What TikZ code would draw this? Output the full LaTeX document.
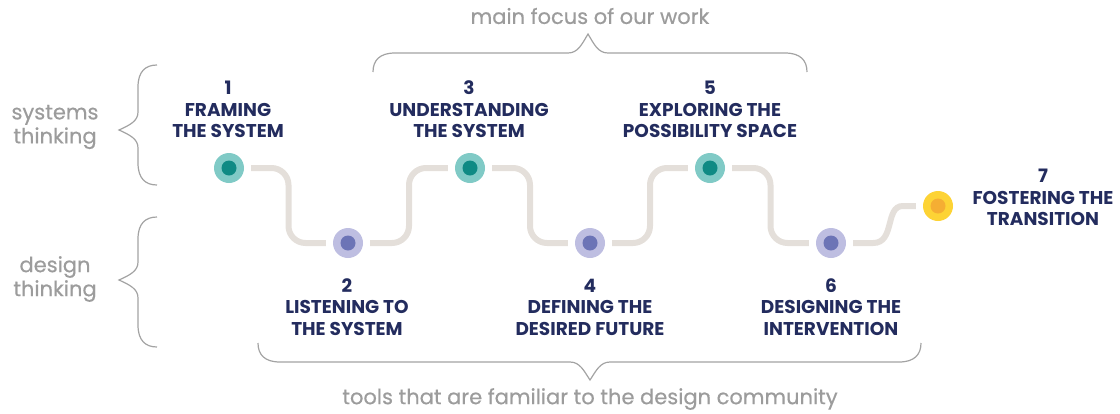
\documentclass[tikz,border=0pt]{standalone}
\usepackage{fontspec}
\setmainfont{Poppins}
\newfontfamily\grayfont[FakeBold=0.5]{Poppins}
\usetikzlibrary{calc}
\definecolor{navy}{HTML}{232C5E}
\definecolor{graytext}{HTML}{9C9C9C}
\definecolor{bracegray}{HTML}{A3A3A3}
\definecolor{track}{HTML}{E4DFDA}
\definecolor{tealL}{HTML}{80CAC6}
\definecolor{tealD}{HTML}{0F8A84}
\definecolor{lavL}{HTML}{BEBEE1}
\definecolor{lavD}{HTML}{6C74B6}
\definecolor{yelL}{HTML}{FDD335}
\definecolor{yelD}{HTML}{F5AE33}
\tikzset{
  stop/.style 2 args={circle, fill=#1, minimum size=30pt, inner sep=0pt,
    path picture={\fill[#2] (path picture bounding box.center) circle (7.5pt);}},
  trackline/.style={draw=track, line width=6pt, rounded corners=17pt},
  lab/.style={text=navy, font=\fontsize{18.5}{21.5}\selectfont\bfseries, align=center, inner sep=0pt},
  glab/.style={text=graytext, font=\grayfont\fontsize{21}{24}\selectfont, align=center, inner sep=0pt},
  bracel/.style={draw=bracegray, line width=1.2pt}
}
\begin{document}
\begin{tikzpicture}[x=1pt,y=-1pt]
\useasboundingbox (0,0) rectangle (1120,413);
% stops
\node[stop={tealL}{tealD}] (n1) at (229,168) {};
\node[stop={lavL}{lavD}] (n2) at (348,243) {};
\node[stop={tealL}{tealD}] (n3) at (470,168) {};
\node[stop={lavL}{lavD}] (n4) at (590,243) {};
\node[stop={tealL}{tealD}] (n5) at (710,168) {};
\node[stop={lavL}{lavD}] (n6) at (831,243) {};
\node[stop={yelL}{yelD}] (n7) at (938,206) {};
% track
\draw[trackline] ([xshift=7pt]n1.east) -| ($(n1)!0.5!(n2)$) |- ([xshift=-7pt]n2.west);
\draw[trackline] ([xshift=7pt]n2.east) -| ($(n2)!0.5!(n3)$) |- ([xshift=-7pt]n3.west);
\draw[trackline] ([xshift=7pt]n3.east) -| ($(n3)!0.5!(n4)$) |- ([xshift=-7pt]n4.west);
\draw[trackline] ([xshift=7pt]n4.east) -| ($(n4)!0.5!(n5)$) |- ([xshift=-7pt]n5.west);
\draw[trackline] ([xshift=7pt]n5.east) -| ($(n5)!0.5!(n6)$) |- ([xshift=-7pt]n6.west);
\coordinate (a6) at ([xshift=7pt]n6.east);
\coordinate (b6) at ([xshift=27pt]n6.east);
\coordinate (a7) at ([xshift=-7pt]n7.west);
\coordinate (b7) at ([xshift=-20pt]n7.west);
\draw[draw=track, line width=6pt] (a6) -- (b6) .. controls ($(b6)+(22,0)$) and ($(b7)+(-18,0)$) .. (b7) -- (a7);
% step labels
\node[lab] (t1) at (228,109.5) {1\\FRAMING\\THE SYSTEM};
\node[lab] (t3) at (469,109.5) {3\\UNDERSTANDING\\THE SYSTEM};
\node[lab] (t5) at (710,109.5) {5\\EXPLORING THE\\POSSIBILITY SPACE};
\node[lab] (t2) at (347,307) {2\\LISTENING TO\\THE SYSTEM};
\node[lab] (t4) at (590,307) {4\\DEFINING THE\\DESIRED FUTURE};
\node[lab] (t6) at (831,307) {6\\DESIGNING THE\\INTERVENTION};
\node[lab] (t7) at (1043,197.5) {7\\FOSTERING THE\\TRANSITION};
% gray labels
\node[glab] (g1) at (55,127) {systems\\thinking};
\node[glab] (g2) at (55,279) {design\\thinking};
\node[glab] (g3) at (590,16) {main focus of our work};
\node[glab] (g4) at (590,399) {tools that are familiar to the design community};
% braces
\draw[bracel] (373,72) .. controls (373,60) and (380,53) .. (395,53) -- (568,53)
  .. controls (578,53) and (582,44) .. (588,34) .. controls (594,44) and (598,53) .. (608,53)
  -- (785,53) .. controls (800,53) and (807,60) .. (807,72);
\draw[bracel] (258,343) .. controls (258,355) and (265,362) .. (280,362) -- (570,362)
  .. controls (580,362) and (584,371) .. (590,380) .. controls (596,371) and (600,362) .. (610,362)
  -- (899,362) .. controls (914,362) and (921,355) .. (921,343);
\draw[bracel] (157,65) .. controls (145,65) and (138,72) .. (138,87) -- (138,112)
  .. controls (138,121) and (130,125) .. (119,130) .. controls (130,135) and (138,139) .. (138,148)
  -- (138,163) .. controls (138,178) and (145,185) .. (157,185);
\draw[bracel] (157,217) .. controls (145,217) and (138,224) .. (138,239) -- (138,262)
  .. controls (138,271) and (130,275) .. (119,280) .. controls (130,285) and (138,289) .. (138,298)
  -- (138,325) .. controls (138,340) and (145,347) .. (157,347);
\end{tikzpicture}
\end{document}
